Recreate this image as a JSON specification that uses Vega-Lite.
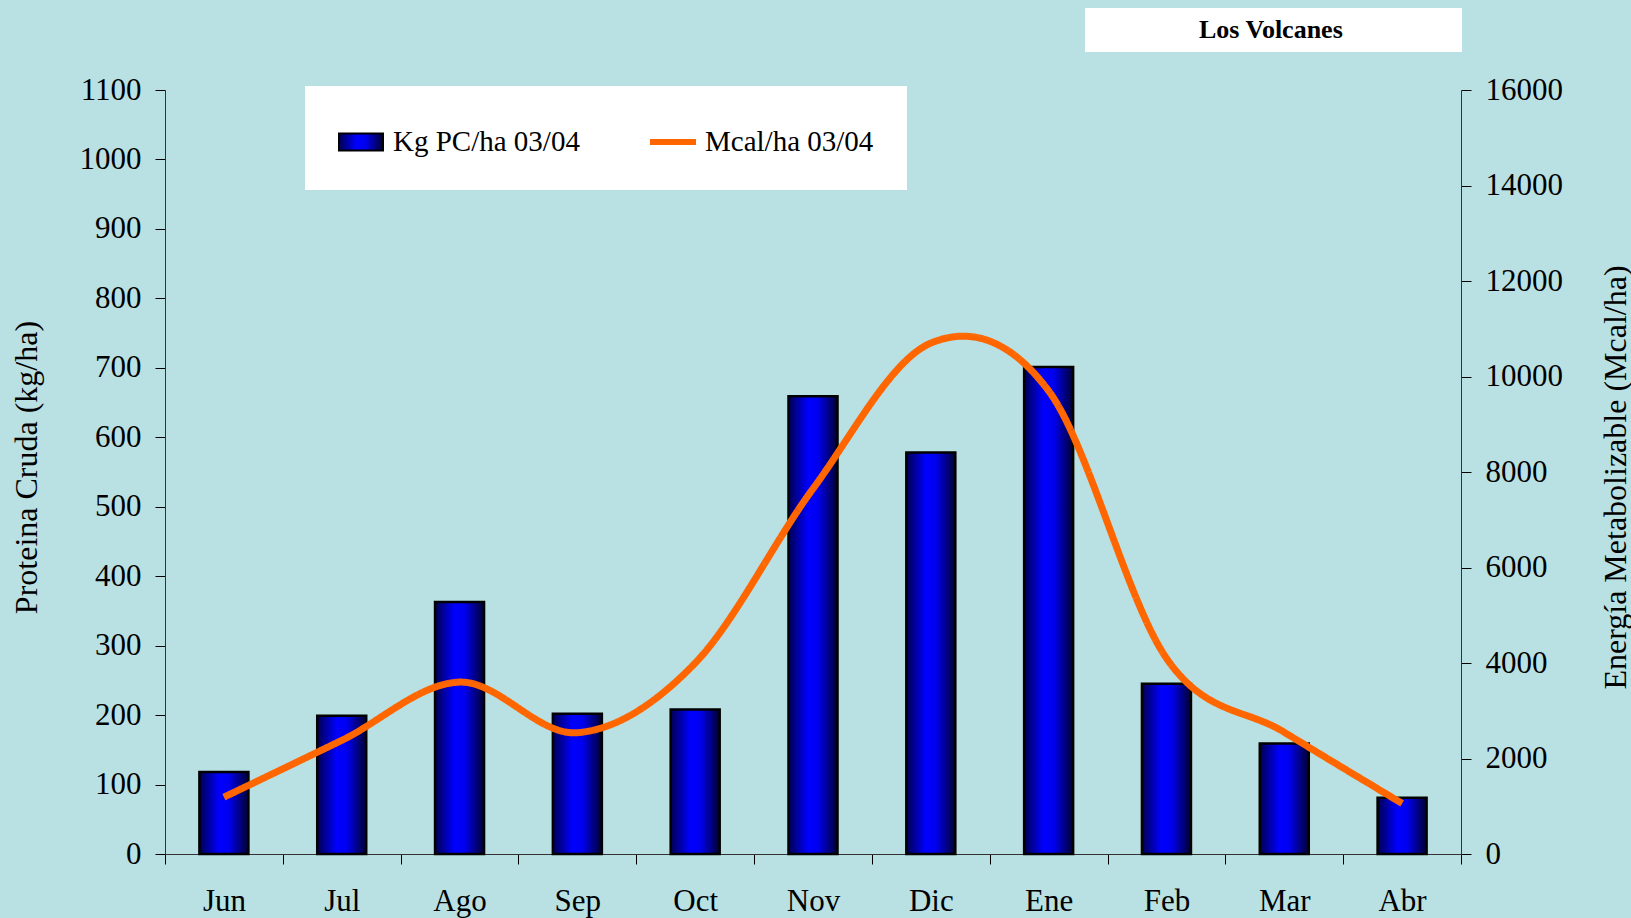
{
  "$schema": "https://vega.github.io/schema/vega-lite/v6.json",
  "width": 1296,
  "height": 764,
  "autosize": "none",
  "padding": {"left": 165, "top": 90, "right": 170, "bottom": 64},
  "background": "#b9e0e3",
  "config": {
    "view": {"stroke": null},
    "font": "Liberation Serif",
    "axis": {
      "labelFont": "Liberation Serif",
      "labelFontSize": 31,
      "labelColor": "#000000",
      "titleFont": "Liberation Serif",
      "titleFontSize": 32,
      "titleFontWeight": "normal",
      "titleColor": "#000000",
      "tickColor": "#000000",
      "domainColor": "#333333",
      "tickSize": 10,
      "grid": false
    }
  },
  "data": {
    "values": [
      {"mes": "Jun", "kg": 118, "mcal": 1190},
      {"mes": "Jul", "kg": 199, "mcal": 2380},
      {"mes": "Ago", "kg": 363, "mcal": 3600},
      {"mes": "Sep", "kg": 202, "mcal": 2540},
      {"mes": "Oct", "kg": 208, "mcal": 4000},
      {"mes": "Nov", "kg": 659, "mcal": 7650},
      {"mes": "Dic", "kg": 578, "mcal": 10700},
      {"mes": "Ene", "kg": 701, "mcal": 9700},
      {"mes": "Feb", "kg": 245, "mcal": 4100},
      {"mes": "Mar", "kg": 159, "mcal": 2550},
      {"mes": "Abr", "kg": 81, "mcal": 1060}
    ]
  },
  "encoding": {
    "x": {
      "field": "mes",
      "type": "nominal",
      "sort": null,
      "scale": {"paddingInner": 0, "paddingOuter": 0},
      "axis": {
        "title": null,
        "labelAngle": 0,
        "tickBand": "extent",
        "labelPadding": 22
      }
    }
  },
  "layer": [
    {
      "mark": {
        "type": "bar",
        "size": 49,
        "stroke": "#000000",
        "strokeWidth": 2.5,
        "fill": {
          "gradient": "linear",
          "x1": 0, "y1": 0, "x2": 1, "y2": 0,
          "stops": [
            {"offset": 0, "color": "#000050"},
            {"offset": 0.4, "color": "#0000ff"},
            {"offset": 0.6, "color": "#0000f0"},
            {"offset": 1, "color": "#000030"}
          ]
        }
      },
      "encoding": {
        "y": {
          "field": "kg",
          "type": "quantitative",
          "scale": {"domain": [0, 1100], "nice": false},
          "axis": {
            "orient": "left",
            "values": [0, 100, 200, 300, 400, 500, 600, 700, 800, 900, 1000, 1100],
            "format": "d",
            "labelPadding": 14,
            "title": "Proteina Cruda (kg/ha)",
            "titleAngle": 270,
            "titleX": -139,
            "titleY": 377,
            "titleAlign": "center",
            "titleBaseline": "middle"
          }
        }
      }
    },
    {
      "mark": {"type": "line", "strokeWidth": 7, "interpolate": "cardinal", "tension": 0},
      "encoding": {
        "y": {
          "field": "mcal",
          "type": "quantitative",
          "scale": {"domain": [0, 16000], "nice": false},
          "axis": {
            "orient": "right",
            "values": [0, 2000, 4000, 6000, 8000, 10000, 12000, 14000, 16000],
            "format": "d",
            "labelPadding": 14,
            "title": "Energía Metabolizable (Mcal/ha)",
            "titleAngle": 270,
            "titleX": 154,
            "titleY": 387,
            "titleAlign": "center",
            "titleBaseline": "middle"
          }
        },
        "color": {
          "datum": "Mcal/ha 03/04",
          "scale": {"domain": ["Kg PC/ha 03/04", "Mcal/ha 03/04"], "range": ["#000000", "#ff6600"]},
          "legend": {
            "title": null,
            "orient": "none",
            "legendX": 140,
            "legendY": -4,
            "direction": "horizontal",
            "columns": 2,
            "fillColor": "#ffffff",
            "padding": 33,
            "columnPadding": 67,
            "labelFont": "Liberation Serif",
            "labelFontSize": 29,
            "labelColor": "#000000",
            "labelOffset": 9,
            "labelLimit": 400,
            "symbolSize": 1936,
            "symbolStrokeWidth": 2,
            "symbolOpacity": 1,
            "symbolType": {"expr": "datum.value == 'Kg PC/ha 03/04' ? 'M-1,-0.386H1V0.386H-1Z' : 'M-1,-0.09H1V0.09H-1Z'"},
            "symbolFillColor": {"expr": "datum.value == 'Kg PC/ha 03/04' ? {gradient: 'linear', x1: 0, y1: 0, x2: 1, y2: 0, stops: [{offset: 0, color: '#000050'}, {offset: 0.4, color: '#0000ff'}, {offset: 0.6, color: '#0000f0'}, {offset: 1, color: '#000030'}]} : '#ff6600'"}
          }
        },
        "strokeDash": {
          "datum": "Los Volcanes",
          "scale": {"domain": ["Los Volcanes"], "range": [[1, 0]]},
          "legend": {
            "title": "\u00a0",
            "titleOrient": "right",
            "titlePadding": 110,
            "titleFontSize": 26,
            "orient": "none",
            "legendX": 920,
            "legendY": -82,
            "fillColor": "#ffffff",
            "padding": 9,
            "labelFont": "Liberation Serif",
            "labelFontSize": 26,
            "labelFontWeight": "bold",
            "labelColor": "#000000",
            "labelOffset": 79,
            "labelLimit": 600,
            "symbolSize": 400,
            "symbolStrokeColor": "transparent",
            "symbolStrokeWidth": 0,
            "symbolOpacity": 0
          }
        }
      }
    }
  ],
  "resolve": {"scale": {"y": "independent"}}
}
